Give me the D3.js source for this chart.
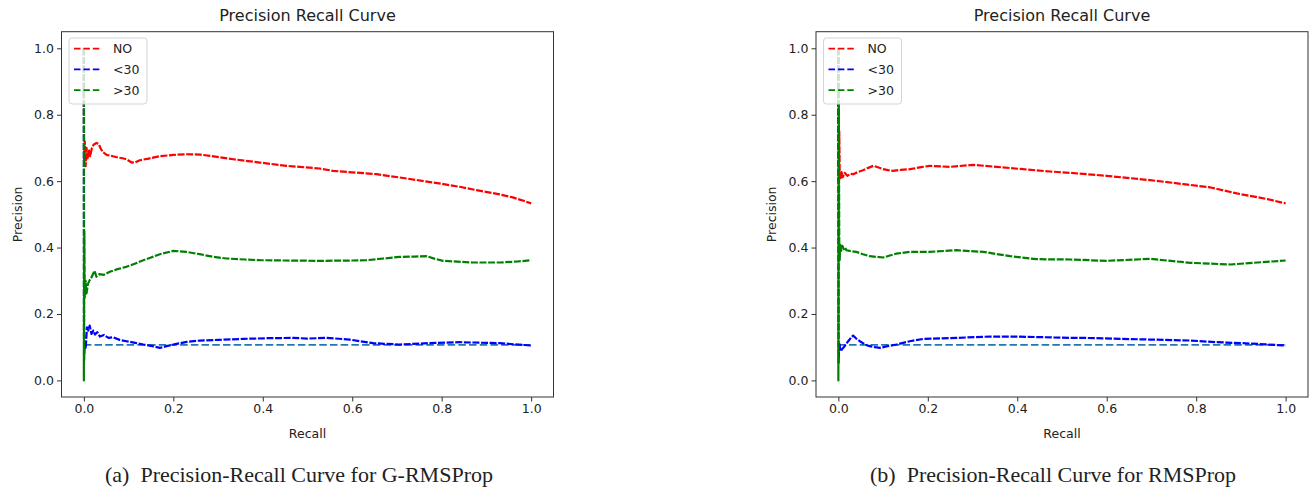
<!doctype html>
<html lang="en">
    <head>
        <meta charset="utf-8">
        <title>Precision Recall Curves</title>
        <script type="text/javascript" src="https://cdn.jsdelivr.net/npm/d3@7"></script>
        <style>
            body { margin: 0; background: #fff; }
            svg text { fill: #222; }
        </style>
    </head>
    <body>
        <script type="text/javascript">
            // [recall, precision] pairs
            var gNo = [[0,1],[0.0005,0.66],[0.002,0.72],[0.004,0.645],[0.006,0.70],[0.008,0.665],[0.011,0.695],
                       [0.014,0.675],[0.018,0.70],[0.022,0.71],[0.028,0.715],[0.033,0.712],[0.037,0.70],[0.042,0.688],
                       [0.051,0.679],[0.065,0.675],[0.077,0.671],[0.087,0.669],[0.095,0.666],[0.107,0.656],[0.115,0.657],
                       [0.125,0.663],[0.145,0.668],[0.17,0.675],[0.2,0.679],[0.229,0.681],[0.26,0.68],[0.282,0.676],
                       [0.334,0.666],[0.393,0.656],[0.453,0.646],[0.483,0.643],[0.527,0.638],[0.557,0.631],[0.654,0.621],
                       [0.706,0.611],[0.781,0.596],[0.84,0.583],[0.878,0.573],[0.93,0.56],[0.959,0.551],[0.985,0.54],[1,0.533]];
            var gLt30 = [[0,1],[0.0005,0.06],[0.002,0.11],[0.004,0.095],[0.007,0.16],[0.01,0.15],[0.013,0.165],
                         [0.017,0.14],[0.021,0.15],[0.025,0.138],[0.03,0.145],[0.036,0.132],[0.045,0.137],[0.055,0.128],
                         [0.065,0.13],[0.08,0.122],[0.095,0.118],[0.115,0.113],[0.133,0.108],[0.15,0.104],[0.17,0.098],
                         [0.185,0.103],[0.207,0.11],[0.23,0.116],[0.259,0.12],[0.3,0.122],[0.356,0.125],[0.41,0.127],
                         [0.468,0.128],[0.5,0.126],[0.542,0.128],[0.594,0.123],[0.647,0.112],[0.706,0.108],[0.77,0.112],
                         [0.84,0.115],[0.93,0.112],[1,0.105]];
            var gGt30 = [[0,1],[0,0],[0.001,0.45],[0.002,0.25],[0.004,0.3],[0.006,0.262],[0.009,0.29],[0.013,0.302],
                         [0.017,0.31],[0.021,0.322],[0.024,0.33],[0.028,0.312],[0.035,0.32],[0.045,0.318],[0.058,0.327],
                         [0.075,0.335],[0.095,0.342],[0.115,0.352],[0.133,0.362],[0.15,0.37],[0.17,0.38],[0.2,0.39],
                         [0.229,0.387],[0.259,0.38],[0.29,0.372],[0.319,0.367],[0.36,0.364],[0.393,0.362],[0.45,0.361],
                         [0.527,0.36],[0.6,0.361],[0.632,0.362],[0.67,0.367],[0.706,0.372],[0.74,0.373],[0.766,0.374],
                         [0.785,0.366],[0.803,0.36],[0.87,0.355],[0.93,0.355],[0.97,0.358],[1,0.362]];

            var rNo = [[0,1],[0.0005,0.60],[0.002,0.75],[0.003,0.62],[0.005,0.605],[0.007,0.63],[0.01,0.612],
                       [0.014,0.625],[0.02,0.616],[0.027,0.622],[0.033,0.621],[0.045,0.628],[0.055,0.633],[0.067,0.64],
                       [0.078,0.646],[0.09,0.641],[0.1,0.636],[0.111,0.633],[0.122,0.631],[0.14,0.634],[0.16,0.636],
                       [0.185,0.642],[0.204,0.646],[0.249,0.643],[0.301,0.649],[0.354,0.643],[0.413,0.636],[0.473,0.629],
                       [0.518,0.625],[0.6,0.616],[0.697,0.603],[0.772,0.591],[0.832,0.581],[0.891,0.563],[0.959,0.546],[1,0.533]];
            var rLt30 = [[0,1],[0.0005,0.053],[0.002,0.113],[0.005,0.088],[0.009,0.095],[0.014,0.103],[0.022,0.118],
                         [0.028,0.128],[0.033,0.135],[0.04,0.126],[0.048,0.118],[0.06,0.108],[0.07,0.103],[0.082,0.1],
                         [0.093,0.098],[0.11,0.103],[0.13,0.108],[0.16,0.118],[0.19,0.125],[0.264,0.128],[0.339,0.132],
                         [0.399,0.132],[0.458,0.13],[0.518,0.128],[0.548,0.128],[0.697,0.123],[0.787,0.12],[0.847,0.115],
                         [0.921,0.111],[1,0.105]];
            var rGt30 = [[0,1],[0,0],[0.001,0.83],[0.002,0.416],[0.003,0.36],[0.004,0.412],[0.006,0.39],[0.009,0.405],
                         [0.012,0.395],[0.015,0.40],[0.018,0.392],[0.025,0.39],[0.04,0.387],[0.055,0.38],[0.07,0.374],
                         [0.085,0.372],[0.1,0.37],[0.115,0.376],[0.13,0.382],[0.16,0.387],[0.204,0.387],[0.264,0.392],
                         [0.324,0.387],[0.384,0.374],[0.443,0.365],[0.518,0.364],[0.6,0.36],[0.697,0.366],[0.787,0.354],
                         [0.877,0.349],[0.937,0.355],[1,0.361]];

            var noSkill = [[0,0.107],[1,0.107]];
            var labels = ["NO", "<30", ">30"];
            var colors = ["#ff0000", "#0000ff", "#008000"];
            var tickVals = [0, 0.2, 0.4, 0.6, 0.8, 1.0];
            var captions = ["(a)\u2002Precision-Recall Curve for G-RMSProp", "(b)\u2002Precision-Recall Curve for RMSProp"];

            var svgW = 1310, svgH = 489;
            var plotW = 492, plotTop = 31.7, plotBottom = 397;

            var svg = d3.select("body")
                        .append("svg")
                        .attr("width", svgW)
                        .attr("height", svgH)
                        .style("font-family", "'DejaVu Sans', sans-serif");

            function drawPanel(left, series, caption, capX) {
                var xScale = d3.scaleLinear().domain([-0.05, 1.05]).range([left, left + plotW]);
                var yScale = d3.scaleLinear().domain([-0.05, 1.05]).range([plotBottom, plotTop]);

                var line = d3.line()
                             .x(d => xScale(d[0]))
                             .y(d => yScale(d[1]));

                var g = svg.append("g");

                g.append("path")
                 .datum(noSkill)
                 .attr("d", line)
                 .attr("fill", "none")
                 .attr("stroke", "#1f77b4")
                 .attr("stroke-width", 1.7)
                 .attr("stroke-dasharray", "7.5,3.2");

                series.forEach(function(s, i) {
                    g.append("path")
                     .datum(s)
                     .attr("d", line)
                     .attr("fill", "none")
                     .attr("stroke", colors[i])
                     .attr("stroke-width", 2.2)
                     .attr("stroke-linejoin", "round")
                     .attr("stroke-dasharray", "7,1.6");
                });

                // axes
                var xAxis = d3.axisBottom(xScale).tickValues(tickVals).tickFormat(d3.format(".1f"))
                              .tickSize(4.5).tickPadding(3);
                var yAxis = d3.axisLeft(yScale).tickValues(tickVals).tickFormat(d3.format(".1f"))
                              .tickSize(4.5).tickPadding(3);

                var xg = g.append("g")
                          .attr("transform", "translate(0," + plotBottom + ")")
                          .call(xAxis);
                var yg = g.append("g")
                          .attr("transform", "translate(" + left + ",0)")
                          .call(yAxis);
                [xg, yg].forEach(function(a) {
                    a.select(".domain").remove();
                    a.selectAll("line").attr("stroke", "#333");
                    a.selectAll("text").attr("font-size", 12.5).attr("fill", "#222")
                     .style("font-family", "'DejaVu Sans', sans-serif");
                });

                g.append("rect")
                 .attr("x", left)
                 .attr("y", plotTop)
                 .attr("width", plotW)
                 .attr("height", plotBottom - plotTop)
                 .attr("fill", "none")
                 .attr("stroke", "#333")
                 .attr("stroke-width", 1);

                g.append("text")
                 .attr("x", left + plotW / 2)
                 .attr("y", 21)
                 .attr("text-anchor", "middle")
                 .attr("font-size", 16)
                 .text("Precision Recall Curve");

                g.append("text")
                 .attr("x", left + plotW / 2)
                 .attr("y", 437.5)
                 .attr("text-anchor", "middle")
                 .attr("font-size", 12.5)
                 .text("Recall");

                g.append("text")
                 .attr("transform", "translate(" + (left - 40) + "," + ((plotTop + plotBottom) / 2) + ") rotate(-90)")
                 .attr("text-anchor", "middle")
                 .attr("font-size", 12.5)
                 .text("Precision");

                // legend
                var lg = g.append("g").attr("transform", "translate(" + (left + 7.5) + ",38)");
                lg.append("rect")
                  .attr("width", 78)
                  .attr("height", 66)
                  .attr("rx", 3)
                  .attr("fill", "#fff")
                  .attr("fill-opacity", 0.8)
                  .attr("stroke", "#d4d4d4");
                labels.forEach(function(lab, i) {
                    var yy = 10.7 + i * 20.7;
                    lg.append("line")
                      .attr("x1", 5).attr("x2", 32)
                      .attr("y1", yy).attr("y2", yy)
                      .attr("stroke", colors[i])
                      .attr("stroke-width", 1.8)
                      .attr("stroke-dasharray", "6.5,2.9");
                    lg.append("text")
                      .attr("x", 44)
                      .attr("y", yy)
                      .attr("dy", "0.36em")
                      .attr("font-size", 12.5)
                      .text(lab);
                });

                svg.append("text")
                   .attr("x", capX)
                   .attr("y", 482)
                   .attr("text-anchor", "middle")
                   .attr("font-size", 22)
                   .style("font-family", "'Liberation Serif', 'Times New Roman', serif")
                   .attr("fill", "#000")
                   .text(caption);
            }

            drawPanel(61.5, [gNo, gLt30, gGt30], captions[0], 299);
            drawPanel(816, [rNo, rLt30, rGt30], captions[1], 1053);
        </script>
    </body>
</html>
